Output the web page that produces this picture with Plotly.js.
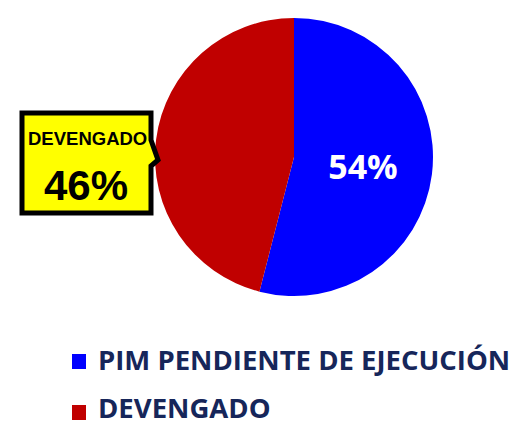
<!DOCTYPE html>
<html>
<head>
<meta charset="utf-8">
<script src="https://cdn.plot.ly/plotly-3.0.1.min.js"></script>
<style>html,body{margin:0;padding:0;background:#fff;}#chart{width:530px;height:427px;}</style>
</head>
<body>
<div id="chart"></div>
<script>
var labels = ["PIM PENDIENTE DE EJECUCIÓN", "DEVENGADO"];
var values = [54, 46];
var colors = ["#0000FF", "#C00000"];
var calloutIndex = 1;

var W = 530, H = 427;
function px(x){ return x / W; }
function py(y){ return 1 - y / H; }

var total = values.reduce(function(a,b){return a+b;}, 0);
function pct(v){ return Math.round(v / total * 100) + "%"; }

var texts = values.map(function(v, i){ return i === calloutIndex ? "" : pct(v); });

var trace = {
  type: "pie",
  labels: labels,
  values: values,
  text: texts,
  textinfo: "text",
  textposition: "inside",
  insidetextorientation: "horizontal",
  sort: false,
  direction: "clockwise",
  rotation: 0,
  marker: { colors: colors, line: { width: 0 } },
  textfont: { family: "Open Sans", size: 34, color: "#ffffff", weight: 700 },
  hoverinfo: "label+percent",
  showlegend: false,
  domain: { x: [px(155), px(433)], y: [py(296), py(18)] }
};

var annotations = [];
var shapes = [];
var legendRowsY = [361, 412];
labels.forEach(function(l, i){
  shapes.push({
    type: "rect", xref: "paper", yref: "paper",
    x0: px(72), x1: px(86), y0: py(legendRowsY[i] + 8), y1: py(legendRowsY[i] - 7),
    fillcolor: colors[i], line: { width: 0 }
  });
  annotations.push({
    xref: "paper", yref: "paper", x: px(97), y: py(Math.min(legendRowsY[i] + 18, 427)),
    xanchor: "left", yanchor: "bottom", showarrow: false, borderpad: 0,
    text: l,
    font: { family: "Open Sans", size: 27.5, color: "#16265a", weight: 700 }
  });
});

// callout box with pointer toward the DEVENGADO slice
shapes.push({
  type: "path", xref: "paper", yref: "paper",
  path: "M" + px(22) + "," + py(113) + " L" + px(151) + "," + py(113) +
        " L" + px(151) + "," + py(140) + " L" + px(158) + "," + py(160) +
        " L" + px(151) + "," + py(166) + " L" + px(151) + "," + py(213) +
        " L" + px(22) + "," + py(213) + " Z",
  fillcolor: "#FFFF00", line: { color: "#000000", width: 5 }
});
annotations.push({
  xref: "paper", yref: "paper", x: px(87), y: py(139),
  xanchor: "center", yanchor: "middle", showarrow: false,
  text: "<b>" + labels[calloutIndex] + "</b>",
  font: { family: "Liberation Sans", size: 18.5, color: "#000000" }
});
annotations.push({
  xref: "paper", yref: "paper", x: px(86), y: py(185),
  xanchor: "center", yanchor: "middle", showarrow: false,
  text: "<b>" + pct(values[calloutIndex]) + "</b>",
  font: { family: "Liberation Sans", size: 42, color: "#000000" }
});

var layout = {
  width: W, height: H,
  margin: { l: 0, r: 0, t: 0, b: 0 },
  paper_bgcolor: "#ffffff",
  showlegend: false,
  annotations: annotations,
  shapes: shapes
};

Plotly.newPlot("chart", [trace], layout, { displayModeBar: false, staticPlot: true });
</script>
</body>
</html>
